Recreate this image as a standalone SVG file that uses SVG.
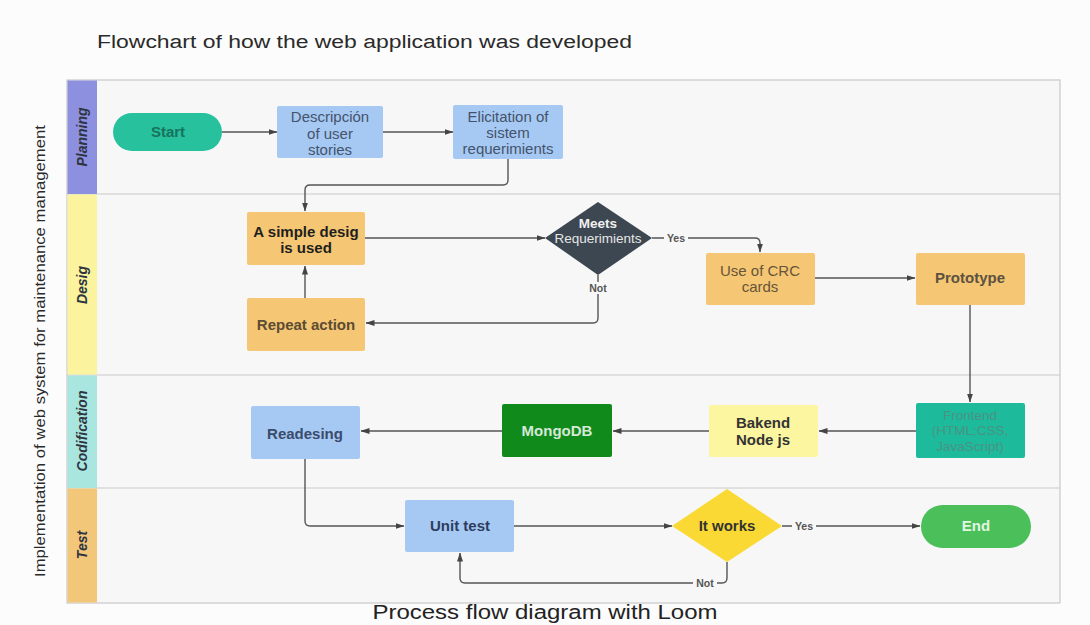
<svg xmlns="http://www.w3.org/2000/svg" width="1090" height="625" viewBox="0 0 1090 625">
<defs>
<marker id="arr" markerWidth="9" markerHeight="7" refX="8.5" refY="3.5" orient="auto" markerUnits="userSpaceOnUse">
<path d="M0,0.5 L9,3.5 L0,6.5 Z" fill="#444"/>
</marker>
<style>
text{font-family:"Liberation Sans",Arial,sans-serif;text-anchor:middle}
.lane{fill:#f7f7f7;stroke:#c9c9c9;stroke-width:1.2}
.lh{stroke:#c9c9c9;stroke-width:1}
.lt{font-size:14px;font-weight:bold;font-style:italic;fill:#2e3440}
.c{fill:none;stroke:#555;stroke-width:1.4}
.ca{fill:none;stroke:#555;stroke-width:1.4;marker-end:url(#arr)}
.n{font-size:15px}
.b{font-weight:bold}
.lbl{font-size:10.5px;font-weight:bold;fill:#555}
.blue{fill:#a6c9f3}
.orange{fill:#f5c673}
</style>
</defs>
<rect x="0" y="0" width="1090" height="625" fill="#fcfcfc"/>
<text x="97" y="48" style="text-anchor:start;font-size:18px;fill:#2a2a2a" textLength="535" lengthAdjust="spacingAndGlyphs">Flowchart of how the web application was developed</text>
<text transform="translate(45,351) rotate(-90)" style="font-size:15px;fill:#2a2a2a" textLength="452" lengthAdjust="spacingAndGlyphs">Implementation of web system for maintenance management</text>

<g id="lanes">
<rect class="lane" x="67" y="80" width="993" height="523"/>
<line class="lh" x1="67" y1="194" x2="1060" y2="194"/>
<line class="lh" x1="67" y1="375" x2="1060" y2="375"/>
<line class="lh" x1="67" y1="488" x2="1060" y2="488"/>
<rect x="67.5" y="80.5" width="29.5" height="113.5" fill="#8d90df"/>
<rect x="67.5" y="194.5" width="29.5" height="180" fill="#fbf39d"/>
<rect x="67.5" y="375.5" width="29.5" height="112.5" fill="#a8e6df"/>
<rect x="67.5" y="488.5" width="29.5" height="114" fill="#f3c779"/>
<text class="lt" transform="translate(87,137) rotate(-90)">Planning</text>
<text class="lt" transform="translate(87,285) rotate(-90)">Desig</text>
<text class="lt" transform="translate(87,431) rotate(-90)">Codification</text>
<text class="lt" transform="translate(87,545) rotate(-90)">Test</text>
</g>

<g id="connectors">
<path class="ca" d="M222,132 H277"/>
<path class="ca" d="M383,132 H453"/>
<path class="ca" d="M508,159 V180 Q508,185 503,185 H310 Q305,185 305,190 V211"/>
<path class="ca" d="M305,298 V266"/>
<path class="ca" d="M365,238 H545"/>
<path class="ca" d="M652,238 H755 Q760,238 760,243 V252"/>
<path class="ca" d="M598,275 V318 Q598,323 593,323 H366"/>
<path class="ca" d="M815,278 H915"/>
<path class="ca" d="M970,305 V402"/>
<path class="ca" d="M916,431 H819"/>
<path class="ca" d="M709,431 H613"/>
<path class="ca" d="M502,431 H361"/>
<path class="ca" d="M305,459 V521 Q305,526 310,526 H404"/>
<path class="ca" d="M514,526 H672"/>
<path class="ca" d="M782,526 H920"/>
<path class="ca" d="M727,562 V578 Q727,583 722,583 H465 Q460,583 460,578 V553"/>
<rect x="664" y="232" width="24" height="12" fill="#f7f7f7"/>
<text class="lbl" x="676" y="242">Yes</text>
<rect x="586" y="282" width="24" height="12" fill="#f7f7f7"/>
<text class="lbl" x="598" y="292">Not</text>
<rect x="792" y="520" width="24" height="12" fill="#f7f7f7"/>
<text class="lbl" x="804" y="530">Yes</text>
<rect x="693" y="577" width="24" height="12" fill="#f7f7f7"/>
<text class="lbl" x="705" y="587">Not</text>
</g>

<g id="start">
<rect x="113" y="113" width="109" height="38" rx="19" fill="#27c29d"/>
<text class="n b" x="168" y="137" style="fill:#17735e">Start</text>
</g>
<g id="descripcion">
<rect class="blue" x="277" y="106" width="106" height="52" rx="2"/>
<text class="n" x="330" y="122" style="fill:#44536b">Descripción</text>
<text class="n" x="330" y="139" style="fill:#44536b">of user</text>
<text class="n" x="330" y="155" style="fill:#44536b">stories</text>
</g>
<g id="elicitation">
<rect class="blue" x="453" y="105" width="110" height="54" rx="2"/>
<text class="n" x="508" y="122" style="fill:#44536b">Elicitation of</text>
<text class="n" x="508" y="138" style="fill:#44536b">sistem</text>
<text class="n" x="508" y="154" style="fill:#44536b">requerimients</text>
</g>
<g id="simple-design">
<rect class="orange" x="247" y="212" width="118" height="53" rx="2"/>
<text class="n b" x="306" y="237" style="fill:#1e1e1e">A simple desig</text>
<text class="n b" x="306" y="253" style="fill:#1e1e1e">is used</text>
</g>
<g id="repeat">
<rect class="orange" x="247" y="298" width="118" height="53" rx="2"/>
<text class="n b" x="306" y="330" style="fill:#5b4c33">Repeat action</text>
</g>
<g id="meets">
<polygon points="598,202 652,238 598,275 545,238" fill="#3c4751"/>
<text x="598" y="228" style="font-size:13.5px;font-weight:bold;fill:#f0f0f0">Meets</text>
<text x="598" y="243" style="font-size:13.5px;fill:#e6e6e6">Requerimients</text>
</g>
<g id="crc">
<rect class="orange" x="706" y="253" width="109" height="52" rx="2"/>
<text class="n" x="760" y="276" style="fill:#66553a">Use of CRC</text>
<text class="n" x="760" y="292" style="fill:#66553a">cards</text>
</g>
<g id="prototype">
<rect class="orange" x="916" y="253" width="109" height="52" rx="2"/>
<text class="n b" x="970" y="283" style="fill:#5d5240">Prototype</text>
</g>
<g id="frontend">
<rect x="916" y="403" width="109" height="55" rx="2" fill="#1dbb9c"/>
<text x="970" y="420" style="font-size:13.5px;fill:#4a9383">Frontend</text>
<text x="970" y="435" style="font-size:13.5px;fill:#4a9383">(HTML;CSS,</text>
<text x="970" y="451" style="font-size:13.5px;fill:#4a9383">JavaScript)</text>
</g>
<g id="bakend">
<rect x="709" y="405" width="109" height="52" rx="2" fill="#fdf6a1"/>
<text class="n b" x="763" y="428" style="fill:#333">Bakend</text>
<text class="n b" x="763" y="445" style="fill:#333">Node js</text>
</g>
<g id="mongodb">
<rect x="502" y="404" width="110" height="53" rx="2" fill="#0f8a1b"/>
<text class="n b" x="557" y="436" style="fill:#d6e8d6">MongoDB</text>
</g>
<g id="readesing">
<rect class="blue" x="251" y="406" width="109" height="53" rx="2"/>
<text class="n b" x="305" y="439" style="fill:#3a4b6b">Readesing</text>
</g>
<g id="unit-test">
<rect class="blue" x="405" y="500" width="109" height="52" rx="2"/>
<text class="n b" x="460" y="531" style="fill:#2c3d5e">Unit test</text>
</g>
<g id="it-works">
<polygon points="727,489 782,526 727,562 672,526" fill="#fbd935"/>
<text class="n b" x="727" y="531" style="fill:#333">It works</text>
</g>
<g id="end">
<rect x="921" y="505" width="110" height="43" rx="21.5" fill="#4bbf59"/>
<text class="n b" x="976" y="531" style="fill:#e2f6e2">End</text>
</g>
<text x="545" y="619" style="font-size:19.5px;fill:#222" textLength="345" lengthAdjust="spacingAndGlyphs">Process flow diagram with Loom</text>
</svg>
